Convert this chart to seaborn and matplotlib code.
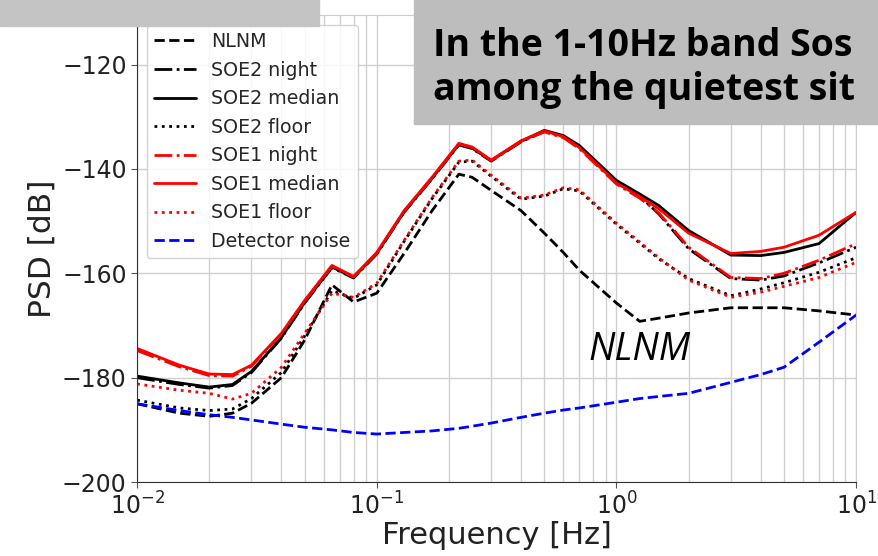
"""Sos Enattos の PSD 比較プロット — seaborn で再現"""

import matplotlib
matplotlib.use("Agg")
import matplotlib.pyplot as plt
from matplotlib.patches import Rectangle
import pandas as pd
import seaborn as sns

# 周波数 [Hz]
freq = [0.01, 0.015, 0.02, 0.025, 0.03, 0.04, 0.05, 0.065, 0.08, 0.1,
        0.13, 0.17, 0.22, 0.25, 0.3, 0.4, 0.5, 0.6, 0.7, 1.0,
        1.25, 1.5, 2, 3, 4, 5, 7, 10]

# 各系列の PSD [dB]
nlnm = [-185.0, -186.8, -187.4, -186.8, -184.9, -180.0, -172.8, -162.2, -165.5, -163.8,
        -156.2, -148.0, -141.0, -141.6, -144.1, -148.0, -152.3, -156.0, -159.4, -165.7,
        -169.2, -168.6, -167.6, -166.6, -166.6, -166.6, -167.2, -168.0]
soe2_night = [-180.0, -181.3, -182.0, -181.5, -179.0, -172.4, -165.7, -158.9, -160.9, -156.3,
              -148.3, -141.9, -135.4, -136.1, -138.5, -134.8, -132.8, -133.8, -135.7, -142.4,
              -145.2, -148.6, -155.3, -161.0, -161.3, -160.5, -158.0, -155.0]
soe2_median = [-179.7, -181.0, -181.8, -181.3, -178.8, -172.3, -165.6, -158.8, -160.8, -156.2,
               -148.2, -141.8, -135.3, -136.0, -138.4, -134.7, -132.6, -133.6, -135.5, -142.2,
               -144.8, -147.0, -151.8, -156.5, -156.6, -156.0, -154.3, -148.3]
soe2_floor = [-184.3, -185.8, -186.3, -186.0, -184.0, -179.0, -172.0, -163.3, -164.8, -162.2,
              -153.9, -145.7, -138.7, -138.5, -141.4, -145.8, -145.2, -143.8, -144.2, -150.6,
              -154.2, -157.2, -161.0, -164.3, -163.0, -161.8, -159.8, -157.0]
soe1_night = [-174.8, -177.9, -179.6, -179.7, -177.8, -171.6, -165.3, -158.6, -160.7, -156.1,
              -148.1, -141.7, -135.2, -135.9, -138.4, -134.7, -132.9, -134.0, -136.1, -142.9,
              -145.6, -148.4, -155.0, -160.8, -161.0, -160.0, -157.5, -154.3]
soe1_median = [-174.4, -177.6, -179.3, -179.4, -177.6, -171.5, -165.2, -158.5, -160.6, -156.0,
               -148.0, -141.6, -135.1, -135.8, -138.3, -134.6, -132.7, -133.8, -135.9, -142.7,
               -145.3, -147.6, -152.3, -156.2, -155.8, -155.0, -152.7, -148.3]
soe1_floor = [-181.2, -182.4, -183.0, -184.1, -183.0, -178.0, -171.5, -163.8, -164.6, -161.9,
              -153.7, -145.5, -138.5, -138.3, -141.2, -145.6, -145.0, -143.6, -144.0, -150.4,
              -154.0, -157.0, -161.3, -164.6, -163.6, -162.5, -160.8, -157.9]
detector = [-185.0, -186.3, -187.1, -187.6, -188.1, -188.9, -189.5, -190.0, -190.5, -190.8,
            -190.5, -190.2, -189.7, -189.3, -188.7, -187.6, -186.8, -186.2, -185.8, -184.7,
            -184.0, -183.6, -183.0, -180.9, -179.4, -178.0, -173.2, -168.0]

# (ラベル, データ, 色, 線種)
series = [
    ("NLNM", nlnm, "black", "--"),
    ("SOE2 night", soe2_night, "black", "-."),
    ("SOE2 median", soe2_median, "black", "-"),
    ("SOE2 floor", soe2_floor, "black", ":"),
    ("SOE1 night", soe1_night, "red", "-."),
    ("SOE1 median", soe1_median, "red", "-"),
    ("SOE1 floor", soe1_floor, "red", ":"),
    ("Detector noise", detector, "blue", "--"),
]

sns.set_style("whitegrid")
plt.rcParams["font.family"] = ["DejaVu Sans"]

fig = plt.figure(figsize=(8.79, 5.56), dpi=100)
ax = fig.add_axes([0.156, 0.133, 0.818, 0.840])

for label, values, color, ls in series:
    df = pd.DataFrame({"f": freq, "psd": values})
    sns.lineplot(data=df, x="f", y="psd", color=color, linestyle=ls,
                 linewidth=2, label=label, ax=ax)

ax.set_xscale("log")
ax.set_xlim(0.01, 10)
ax.set_ylim(-200, -110.5)
ax.set_yticks([-200, -180, -160, -140, -120])
ax.grid(which="major", color="#d0d0d0", linewidth=1)
ax.grid(which="minor", axis="x", color="#d0d0d0", linewidth=1)
ax.grid(which="minor", axis="y", visible=False)
ax.tick_params(axis="both", which="major", labelsize=17, length=4,
               left=True, bottom=True, color="#555555", labelcolor="#222222")
ax.tick_params(axis="x", which="minor", length=0)
for side in ["left", "bottom"]:
    ax.spines[side].set_color("#333333")
for side in ["top", "right"]:
    ax.spines[side].set_color("#cccccc")
ax.set_xlabel("Frequency [Hz]", fontsize=22, color="#222222", labelpad=1)
ax.set_ylabel("PSD [dB]", fontsize=22.5, color="#222222")

ax.legend(loc="upper left", fontsize=13.7, framealpha=0.85,
          edgecolor="#cccccc", handlelength=2.2)

ax.text(1.25, -174.7, "NLNM", fontsize=27, style="italic", color="black",
        family=["Open Sans", "DejaVu Sans"], ha="center", va="center")

# 上部のスライド風グレー帯
fig.add_artist(Rectangle((0, 1 - 26 / 556), 319 / 879, 26 / 556,
                         transform=fig.transFigure, color="#c4c4c4", zorder=10))
fig.add_artist(Rectangle((414 / 879, 1 - 124 / 556), 1 - 414 / 879, 124 / 556,
                         transform=fig.transFigure, color="#bdbdbd", zorder=10))
fig.text(433 / 879, 1 - 56 / 556, "In the 1-10Hz band Sos", fontsize=27,
         weight="bold", color="black", family=["Open Sans", "DejaVu Sans"],
         va="baseline", zorder=11)
fig.text(433 / 879, 1 - 100 / 556, "among the quietest sit", fontsize=27,
         weight="bold", color="black", family=["Open Sans", "DejaVu Sans"],
         va="baseline", zorder=11)

fig.savefig("out.png", dpi=100)
